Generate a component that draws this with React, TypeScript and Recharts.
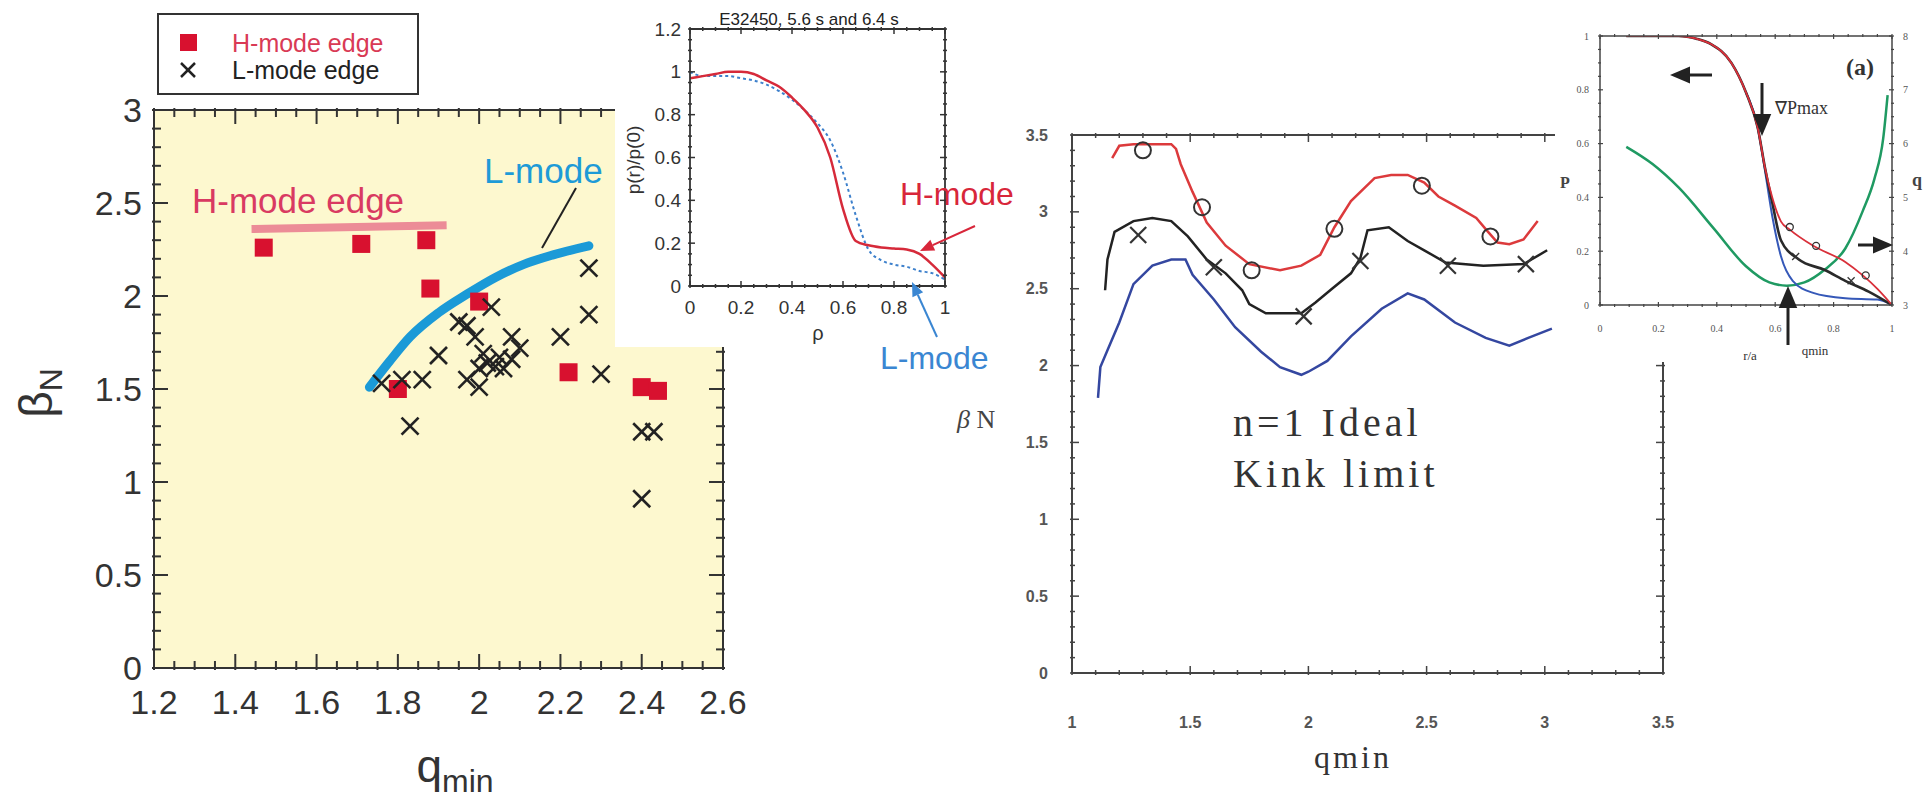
import React from 'react';
import { ComposedChart, Line, Scatter, XAxis, YAxis, CartesianGrid } from 'recharts';

const SANS = "'Liberation Sans', Arial, Helvetica, sans-serif";
const SERIF = "'Liberation Serif', 'Times New Roman', serif";

// ---- panel A: beta_N vs q_min, H-mode / L-mode edge shots
const A_H_QMIN = [1.47, 1.71, 1.87, 1.88, 1.8, 2.0, 2.22, 2.4, 2.44];
const A_H_BETA = [2.26, 2.28, 2.3, 2.04, 1.5, 1.97, 1.59, 1.51, 1.49];
const A_L_QMIN = [1.76, 1.81, 1.83, 1.86, 1.9, 1.95, 1.97, 1.97, 1.99, 2.0, 2.0, 2.01, 2.02, 2.03, 2.04, 2.05, 2.06, 2.08, 2.08, 2.1, 2.2, 2.27, 2.27, 2.3, 2.4, 2.43, 2.4];
const A_L_BETA = [1.53, 1.55, 1.3, 1.55, 1.68, 1.86, 1.84, 1.55, 1.78, 1.51, 1.61, 1.69, 1.64, 1.94, 1.62, 1.67, 1.61, 1.78, 1.66, 1.72, 1.78, 2.15, 1.9, 1.58, 1.27, 1.27, 0.91];
const A_LCURVE_QMIN = [1.73, 1.78, 1.83, 1.9, 1.97, 2.04, 2.11, 2.18, 2.27];
const A_LCURVE_BETA = [1.51, 1.65, 1.78, 1.91, 2.01, 2.1, 2.17, 2.22, 2.27];
const A_HLINE_QMIN = [1.44, 1.92];
const A_HLINE_BETA = [2.36, 2.38];

// ---- panel B: pressure profiles p(r)/p(0)
const B_RHO = [0, 0.05, 0.1, 0.15, 0.2, 0.25, 0.3, 0.35, 0.4, 0.45, 0.5, 0.55, 0.6, 0.65, 0.7, 0.75, 0.8, 0.85, 0.9, 0.95, 1.0];
const B_H = [0.97, 0.98, 0.99, 1.0, 1.0, 0.99, 0.96, 0.93, 0.88, 0.82, 0.74, 0.6, 0.36, 0.21, 0.19, 0.18, 0.175, 0.17, 0.15, 0.1, 0.04];
const B_L = [1.0, 0.98, 0.98, 0.98, 0.97, 0.96, 0.94, 0.91, 0.87, 0.82, 0.76, 0.68, 0.53, 0.33, 0.17, 0.12, 0.1, 0.09, 0.07, 0.06, 0.03];

// ---- panel C: n=1 ideal kink limit vs q_min
const C_RED_Q = [1.17, 1.2, 1.26, 1.34, 1.42, 1.44, 1.46, 1.51, 1.57, 1.65, 1.75, 1.88, 1.97, 2.05, 2.11, 2.18, 2.28, 2.35, 2.42, 2.49, 2.55, 2.62, 2.71, 2.76, 2.8, 2.85, 2.91, 2.94, 2.97];
const C_RED_B = [3.35, 3.43, 3.44, 3.44, 3.44, 3.41, 3.31, 3.13, 2.93, 2.78, 2.66, 2.62, 2.65, 2.72, 2.9, 3.07, 3.22, 3.24, 3.24, 3.19, 3.1, 3.04, 2.96, 2.87, 2.8, 2.79, 2.82, 2.88, 2.94];
const C_BLK_Q = [1.14, 1.15, 1.18, 1.26, 1.34, 1.42, 1.49, 1.57, 1.65, 1.72, 1.75, 1.82, 1.97, 2.03, 2.1, 2.18, 2.22, 2.25, 2.34, 2.42, 2.49, 2.58, 2.74, 2.91, 3.01];
const C_BLK_B = [2.49, 2.69, 2.87, 2.94, 2.96, 2.94, 2.84, 2.69, 2.6, 2.49, 2.4, 2.34, 2.34, 2.41, 2.5, 2.6, 2.7, 2.88, 2.9, 2.81, 2.75, 2.67, 2.65, 2.66, 2.75];
const C_BLU_Q = [1.11, 1.12, 1.15, 1.2, 1.26, 1.34, 1.42, 1.48, 1.51, 1.6, 1.69, 1.8, 1.88, 1.97, 2.0, 2.08, 2.18, 2.31, 2.42, 2.49, 2.62, 2.75, 2.85, 2.93, 3.03];
const C_BLU_B = [1.79, 1.99, 2.1, 2.28, 2.53, 2.65, 2.69, 2.69, 2.59, 2.43, 2.25, 2.09, 1.99, 1.94, 1.96, 2.03, 2.19, 2.37, 2.47, 2.43, 2.28, 2.18, 2.13, 2.18, 2.24];
const C_CIRC_Q = [1.3, 1.55, 1.76, 2.11, 2.48, 2.77];
const C_CIRC_B = [3.4, 3.03, 2.62, 2.89, 3.17, 2.84];
const C_CROSS_Q = [1.28, 1.6, 1.98, 2.22, 2.59, 2.92];
const C_CROSS_B = [2.85, 2.64, 2.32, 2.68, 2.65, 2.66];

// ---- panel D: P and q profiles vs r/a
const D_RED_R = [0.09, 0.2, 0.27, 0.33, 0.38, 0.45, 0.5, 0.54, 0.565, 0.59, 0.62, 0.65, 0.73, 0.84, 0.9, 0.95, 1.0];
const D_RED_P = [1.0, 1.0, 1.0, 0.99, 0.97, 0.9, 0.79, 0.66, 0.51, 0.4, 0.31, 0.28, 0.22, 0.16, 0.11, 0.06, 0.0];
const D_BLK_R = [0.09, 0.2, 0.27, 0.33, 0.38, 0.45, 0.5, 0.54, 0.565, 0.59, 0.62, 0.68, 0.77, 0.84, 0.92, 1.0];
const D_BLK_P = [1.0, 1.0, 1.0, 0.99, 0.97, 0.9, 0.79, 0.66, 0.51, 0.38, 0.24, 0.17, 0.13, 0.09, 0.05, 0.0];
const D_BLU_R = [0.5, 0.54, 0.565, 0.59, 0.62, 0.66, 0.73, 0.84, 0.95, 1.0];
const D_BLU_P = [0.79, 0.66, 0.5, 0.33, 0.18, 0.09, 0.045, 0.025, 0.02, 0.0];
const D_Q_R = [0.09, 0.18, 0.27, 0.39, 0.5, 0.58, 0.64, 0.7, 0.77, 0.84, 0.9, 0.94, 0.97, 0.985];
const D_Q = [5.94, 5.62, 5.18, 4.42, 3.72, 3.42, 3.36, 3.42, 3.66, 4.05, 4.75, 5.35, 6.1, 6.9];
const D_CIRC_R = [0.65, 0.74, 0.91];
const D_CIRC_P = [0.29, 0.22, 0.11];
const D_CROSS_R = [0.67, 0.86];
const D_CROSS_P = [0.18, 0.09];

// helpers
const steps = (a: number, b: number, s: number) => {
  const n = Math.round((b - a) / s);
  return Array.from({ length: n + 1 }, (_, i) => +(a + i * s).toFixed(4));
};
const zip = (xs: number[], ys: number[]) => xs.map((x, i) => ({ x, y: ys[i] }));
const fmt = (v: number) => String(Number(v.toFixed(2)));

type Side = 'bottom' | 'top' | 'left' | 'right';
interface TickCfg {
  side: Side;
  major: number;
  len: number;
  minor: number;
  stroke: string;
  sw: number;
  label?: { offset: number; size: number; family: string; fill: string; weight?: number };
}

// ticks drawn inward from the axis line, labels only on major ticks
function inTicks(c: TickCfg) {
  return (p: any) => {
    const { x, y, payload } = p;
    const v: number = payload.value;
    const r = v / c.major;
    const isMajor = Math.abs(r - Math.round(r)) < 1e-6;
    const L = isMajor ? c.len : c.minor;
    let x2 = x;
    let y2 = y;
    if (c.side === 'bottom') y2 = y - L;
    else if (c.side === 'top') y2 = y + L;
    else if (c.side === 'left') x2 = x + L;
    else x2 = x - L;
    let text = null;
    if (c.label && isMajor) {
      const lb = c.label;
      let tx = x;
      let ty = y;
      let anchor: 'middle' | 'end' | 'start' = 'middle';
      if (c.side === 'bottom') ty = y + lb.offset;
      else if (c.side === 'top') ty = y - lb.offset;
      else if (c.side === 'left') { tx = x - lb.offset; anchor = 'end'; }
      else { tx = x + lb.offset; anchor = 'start'; }
      text = (
        <text x={tx} y={ty} textAnchor={anchor} dominantBaseline="central" fontSize={lb.size}
          fontFamily={lb.family} fill={lb.fill} fontWeight={lb.weight || 400}>
          {fmt(v)}
        </text>
      );
    }
    return (
      <g>
        <line x1={x} y1={y} x2={x2} y2={y2} stroke={c.stroke} strokeWidth={c.sw} />
        {text}
      </g>
    );
  };
}

const squareShape = (p: any) => <rect x={p.cx - 9} y={p.cy - 9} width={18} height={18} fill="#d8112f" />;
const crossShape = (h: number, sw: number, color: string) => (p: any) => (
  <g stroke={color} strokeWidth={sw}>
    <line x1={p.cx - h} y1={p.cy - h} x2={p.cx + h} y2={p.cy + h} />
    <line x1={p.cx - h} y1={p.cy + h} x2={p.cx + h} y2={p.cy - h} />
  </g>
);
const circleShape = (r: number, sw: number, color: string) => (p: any) => (
  <circle cx={p.cx} cy={p.cy} r={r} fill="none" stroke={color} strokeWidth={sw} />
);

const A_XT = steps(1.2, 2.6, 0.05);
const A_YT = steps(0, 3, 0.1);
const B_XT = steps(0, 1, 0.05);
const B_YT = steps(0, 1.2, 0.05);
const C_XT = steps(1, 3.5, 0.1);
const C_YT = steps(0, 3.5, 0.1);
const D_XT = steps(0, 1, 0.05);
const D_YT = steps(0, 1, 0.05);
const D_QT = steps(3, 8, 0.25);

function PanelA() {
  const ax = { stroke: '#333', strokeWidth: 2 };
  const lab = { size: 34, family: SANS, fill: '#333' };
  const base = { stroke: '#333', sw: 2, len: 16, minor: 9 };
  return (
    <div style={{ position: 'absolute', left: 0, top: 60 }}>
      <ComposedChart width={760} height={746} margin={{ top: 49, right: 36, bottom: 0, left: 0 }}>
        <CartesianGrid fill="#fdf8cf" stroke="none" horizontal={false} vertical={false} />
        <XAxis type="number" dataKey="x" domain={[1.2, 2.6]} ticks={A_XT} interval={0} height={138} tickSize={0}
          tickLine={false} axisLine={ax} allowDataOverflow
          tick={inTicks({ ...base, side: 'bottom', major: 0.2, label: { ...lab, offset: 32 } })} />
        <XAxis xAxisId="top" orientation="top" type="number" dataKey="x" domain={[1.2, 2.6]} ticks={A_XT} interval={0}
          height={1} tickSize={0} tickLine={false} axisLine={ax} allowDataOverflow
          tick={inTicks({ ...base, side: 'top', major: 0.2 })} />
        <YAxis type="number" dataKey="y" domain={[0, 3]} ticks={A_YT} interval={0} width={154} tickSize={0}
          tickLine={false} axisLine={ax} allowDataOverflow
          tick={inTicks({ ...base, side: 'left', major: 0.5, label: { ...lab, offset: 10 } })} />
        <YAxis yAxisId="right" orientation="right" type="number" dataKey="y" domain={[0, 3]} ticks={A_YT} interval={0}
          width={1} tickSize={0} tickLine={false} axisLine={ax} allowDataOverflow
          tick={inTicks({ ...base, side: 'right', major: 0.5 })} />
        <Line data={zip(A_HLINE_QMIN, A_HLINE_BETA)} dataKey="y" stroke="#ec8c97" strokeWidth={8}
          dot={false} isAnimationActive={false} />
        <Line data={zip(A_LCURVE_QMIN, A_LCURVE_BETA)} dataKey="y" type="monotone" stroke="#1b9ad7" strokeWidth={9}
          strokeLinecap="round" dot={false} isAnimationActive={false} />
        <Scatter data={zip(A_H_QMIN, A_H_BETA)} shape={squareShape} isAnimationActive={false} />
        <Scatter data={zip(A_L_QMIN, A_L_BETA)} shape={crossShape(8.5, 2.6, '#222')} isAnimationActive={false} />
      </ComposedChart>
    </div>
  );
}

function PanelB() {
  const ax = { stroke: '#333', strokeWidth: 1.8 };
  const lab = { size: 19, family: SANS, fill: '#333' };
  const base = { stroke: '#333', sw: 1.5, len: 7, minor: 4 };
  return (
    <div style={{ position: 'absolute', left: 615, top: 0, width: 395, height: 347, background: '#fff' }}>
      <ComposedChart width={395} height={347} margin={{ top: 28, right: 64, bottom: 0, left: 0 }}>
        <XAxis type="number" dataKey="x" domain={[0, 1]} ticks={B_XT} interval={0} height={61} tickSize={0}
          tickLine={false} axisLine={ax} allowDataOverflow
          tick={inTicks({ ...base, side: 'bottom', major: 0.2, label: { ...lab, offset: 19 } })} />
        <XAxis xAxisId="top" orientation="top" type="number" dataKey="x" domain={[0, 1]} ticks={B_XT} interval={0}
          height={1} tickSize={0} tickLine={false} axisLine={ax} allowDataOverflow
          tick={inTicks({ ...base, side: 'top', major: 0.2 })} />
        <YAxis type="number" dataKey="y" domain={[0, 1.2]} ticks={B_YT} interval={0} width={75} tickSize={0}
          tickLine={false} axisLine={ax} allowDataOverflow
          tick={inTicks({ ...base, side: 'left', major: 0.2, label: { ...lab, offset: 7 } })} />
        <YAxis yAxisId="right" orientation="right" type="number" dataKey="y" domain={[0, 1.2]} ticks={B_YT}
          interval={0} width={1} tickSize={0} tickLine={false} axisLine={ax} allowDataOverflow
          tick={inTicks({ ...base, side: 'right', major: 0.2 })} />
        <Line data={zip(B_RHO, B_L)} dataKey="y" type="monotone" stroke="#3d80cc" strokeWidth={2}
          strokeDasharray="3 3" dot={false} isAnimationActive={false} />
        <Line data={zip(B_RHO, B_H)} dataKey="y" type="monotone" stroke="#d62a3a" strokeWidth={2.5}
          dot={false} isAnimationActive={false} />
      </ComposedChart>
    </div>
  );
}

function PanelC() {
  const ax = { stroke: '#444', strokeWidth: 2 };
  const lab = { size: 16, family: SANS, fill: '#555', weight: 700 };
  const base = { stroke: '#444', sw: 1.5, len: 9, minor: 5 };
  return (
    <div style={{ position: 'absolute', left: 1000, top: 100 }}>
      <ComposedChart width={700} height={640} margin={{ top: 34, right: 36, bottom: 0, left: 0 }}>
        <XAxis type="number" dataKey="x" domain={[1, 3.5]} ticks={C_XT} interval={0} height={67} tickSize={0}
          tickLine={false} axisLine={ax} allowDataOverflow
          tick={inTicks({ ...base, side: 'bottom', major: 0.5, label: { ...lab, offset: 47 } })} />
        <XAxis xAxisId="top" orientation="top" type="number" dataKey="x" domain={[1, 3.5]} ticks={C_XT} interval={0}
          height={1} tickSize={0} tickLine={false} axisLine={ax} allowDataOverflow
          tick={inTicks({ ...base, side: 'top', major: 0.5 })} />
        <YAxis type="number" dataKey="y" domain={[0, 3.5]} ticks={C_YT} interval={0} width={72} tickSize={0}
          tickLine={false} axisLine={ax} allowDataOverflow
          tick={inTicks({ ...base, side: 'left', major: 0.5, label: { ...lab, offset: 22 } })} />
        <YAxis yAxisId="right" orientation="right" type="number" dataKey="y" domain={[0, 3.5]} ticks={C_YT}
          interval={0} width={1} tickSize={0} tickLine={false} axisLine={ax} allowDataOverflow
          tick={inTicks({ ...base, side: 'right', major: 0.5 })} />
        <Line data={zip(C_BLU_Q, C_BLU_B)} dataKey="y" stroke="#3447a0" strokeWidth={2.5} dot={false}
          isAnimationActive={false} />
        <Line data={zip(C_BLK_Q, C_BLK_B)} dataKey="y" stroke="#222" strokeWidth={2.5} dot={false}
          isAnimationActive={false} />
        <Line data={zip(C_RED_Q, C_RED_B)} dataKey="y" stroke="#dc3a3c" strokeWidth={2.5} dot={false}
          isAnimationActive={false} />
        <Scatter data={zip(C_CIRC_Q, C_CIRC_B)} shape={circleShape(8, 2, '#333')} isAnimationActive={false} />
        <Scatter data={zip(C_CROSS_Q, C_CROSS_B)} shape={crossShape(8, 2.2, '#333')} isAnimationActive={false} />
      </ComposedChart>
    </div>
  );
}

function PanelD() {
  const ax = { stroke: '#444', strokeWidth: 1.5 };
  const lab = { size: 10, family: SERIF, fill: '#555' };
  const base = { stroke: '#444', sw: 1.2, len: 5, minor: 3 };
  return (
    <div style={{ position: 'absolute', left: 1555, top: 0, width: 375, height: 362, background: '#fff' }}>
      <ComposedChart width={375} height={362} margin={{ top: 35, right: 0, bottom: 0, left: 0 }}>
        <XAxis type="number" dataKey="x" domain={[0, 1]} ticks={D_XT} interval={0} height={57} tickSize={0}
          tickLine={false} axisLine={ax} allowDataOverflow
          tick={inTicks({ ...base, side: 'bottom', major: 0.2, label: { ...lab, offset: 21 } })} />
        <XAxis xAxisId="top" orientation="top" type="number" dataKey="x" domain={[0, 1]} ticks={D_XT} interval={0}
          height={1} tickSize={0} tickLine={false} axisLine={ax} allowDataOverflow
          tick={inTicks({ ...base, side: 'top', major: 0.2 })} />
        <YAxis type="number" dataKey="y" domain={[0, 1]} ticks={D_YT} interval={0} width={45} tickSize={0}
          tickLine={false} axisLine={ax} allowDataOverflow
          tick={inTicks({ ...base, side: 'left', major: 0.2, label: { ...lab, offset: 9 } })} />
        <YAxis yAxisId="q" orientation="right" type="number" dataKey="y" domain={[3, 8]} ticks={D_QT} interval={0}
          width={38} tickSize={0} tickLine={false} axisLine={ax} allowDataOverflow
          tick={inTicks({ ...base, side: 'right', major: 1, label: { ...lab, offset: 9 } })} />
        <Line data={zip(D_Q_R, D_Q)} yAxisId="q" dataKey="y" type="monotone" stroke="#1f9a62" strokeWidth={2.5}
          dot={false} isAnimationActive={false} />
        <Line data={zip(D_BLU_R, D_BLU_P)} dataKey="y" type="monotone" stroke="#3558b8" strokeWidth={2}
          dot={false} isAnimationActive={false} />
        <Line data={zip(D_BLK_R, D_BLK_P)} dataKey="y" type="monotone" stroke="#2a2a2a" strokeWidth={2.6}
          dot={false} isAnimationActive={false} />
        <Line data={zip(D_RED_R, D_RED_P)} dataKey="y" type="monotone" stroke="#d9303a" strokeWidth={1.8}
          dot={false} isAnimationActive={false} />
        <Scatter data={zip(D_CIRC_R, D_CIRC_P)} shape={circleShape(3.5, 1.3, '#333')} isAnimationActive={false} />
        <Scatter data={zip(D_CROSS_R, D_CROSS_P)} shape={crossShape(3.5, 1.3, '#333')} isAnimationActive={false} />
      </ComposedChart>
    </div>
  );
}

function Arrow({ x1, y1, x2, y2, color, width, head }: { x1: number; y1: number; x2: number; y2: number; color: string; width: number; head: number }) {
  const ang = Math.atan2(y2 - y1, x2 - x1);
  const hx = x2 - head * Math.cos(ang);
  const hy = y2 - head * Math.sin(ang);
  const w = head * 0.42;
  const px = -Math.sin(ang) * w;
  const py = Math.cos(ang) * w;
  return (
    <g>
      <line x1={x1} y1={y1} x2={hx} y2={hy} stroke={color} strokeWidth={width} />
      <polygon points={`${x2},${y2} ${hx + px},${hy + py} ${hx - px},${hy - py}`} fill={color} />
    </g>
  );
}

function Overlay() {
  return (
    <svg width={1930} height={806} style={{ position: 'absolute', left: 0, top: 0, pointerEvents: 'none' }}>
      {/* panel A legend and labels */}
      <rect x={158} y={14} width={260} height={80} fill="#fff" stroke="#333" strokeWidth={2} />
      <rect x={180} y={34} width={17} height={17} fill="#d8112f" />
      <text x={232} y={43} fontSize={25} fontFamily={SANS} fill="#d93a55" dominantBaseline="central">H-mode edge</text>
      <g stroke="#222" strokeWidth={2.5}>
        <line x1={181} y1={63} x2={195} y2={77} />
        <line x1={181} y1={77} x2={195} y2={63} />
      </g>
      <text x={232} y={70} fontSize={25} fontFamily={SANS} fill="#222" dominantBaseline="central">L-mode edge</text>
      <text x={192} y={200} fontSize={35} fontFamily={SANS} fill="#d93a62" dominantBaseline="central">H-mode edge</text>
      <text x={484} y={170} fontSize={35} fontFamily={SANS} fill="#1e9bd7" dominantBaseline="central">L-mode</text>
      <line x1={576} y1={188} x2={542} y2={248} stroke="#222" strokeWidth={2} />
      <text transform="translate(52,393) rotate(-90)" textAnchor="middle" fontSize={46} fontFamily={SANS} fill="#333">
        β<tspan fontSize={32} dy={10}>N</tspan>
      </text>
      <text x={455} y={782} textAnchor="middle" fontSize={46} fontFamily={SANS} fill="#333">
        q<tspan fontSize={32} dy={10}>min</tspan>
      </text>

      {/* panel B labels */}
      <text x={809} y={19} textAnchor="middle" fontSize={17} fontFamily={SANS} fill="#222" dominantBaseline="central">
        E32450, 5.6 s and 6.4 s
      </text>
      <text transform="translate(640,160) rotate(-90)" textAnchor="middle" fontSize={19} fontFamily={SANS} fill="#333">
        p(r)/p(0)
      </text>
      <text x={818} y={333} textAnchor="middle" fontSize={20} fontFamily={SANS} fill="#333" dominantBaseline="central">ρ</text>
      <text x={900} y={194} fontSize={32} fontFamily={SANS} fill="#d8263a" dominantBaseline="central">H-mode</text>
      <text x={880} y={358} fontSize={32} fontFamily={SANS} fill="#3a86d2" dominantBaseline="central">L-mode</text>
      <Arrow x1={975} y1={226} x2={920} y2={251} color="#d8263a" width={2} head={14} />
      <Arrow x1={937} y1={337} x2={912} y2={282} color="#3a86d2" width={2} head={14} />

      {/* panel C labels */}
      <text x={957} y={428} fontSize={26} fontFamily={SERIF} fill="#444">
        <tspan fontStyle="italic">β</tspan> N
      </text>
      <text x={1353} y={768} textAnchor="middle" fontSize={32} fontFamily={SERIF} fill="#333" letterSpacing={3}>qmin</text>
      <text x={1233} y={436} fontSize={40} fontFamily={SERIF} fill="#333" letterSpacing={4}>n=1 Ideal</text>
      <text x={1233} y={487} fontSize={40} fontFamily={SERIF} fill="#333" letterSpacing={4}>Kink limit</text>

      {/* panel D labels */}
      <text x={1560} y={188} fontSize={16} fontFamily={SERIF} fontWeight={700} fill="#444">P</text>
      <text x={1912} y={186} fontSize={18} fontFamily={SERIF} fontWeight={700} fill="#444">q</text>
      <text x={1860} y={75} textAnchor="middle" fontSize={24} fontFamily={SERIF} fontWeight={700} fill="#333">(a)</text>
      <text x={1775} y={114} fontSize={18} fontFamily={SERIF} fill="#333">∇Pmax</text>
      <text x={1750} y={360} textAnchor="middle" fontSize={13} fontFamily={SERIF} fill="#333">r/a</text>
      <text x={1815} y={355} textAnchor="middle" fontSize={13} fontFamily={SERIF} fill="#333">qmin</text>
      <Arrow x1={1762} y1={83} x2={1762} y2={136} color="#222" width={3} head={22} />
      <Arrow x1={1712} y1={75} x2={1670} y2={75} color="#222" width={3} head={20} />
      <Arrow x1={1858} y1={245} x2={1893} y2={245} color="#222" width={3} head={20} />
      <Arrow x1={1788} y1={345} x2={1788} y2={286} color="#222" width={3} head={22} />
    </svg>
  );
}

export default function App() {
  return (
    <div style={{ position: 'absolute', left: 0, top: 0, width: 1930, height: 806, background: '#fff', overflow: 'hidden' }}>
      <PanelA />
      <PanelB />
      <PanelC />
      <PanelD />
      <Overlay />
    </div>
  );
}
